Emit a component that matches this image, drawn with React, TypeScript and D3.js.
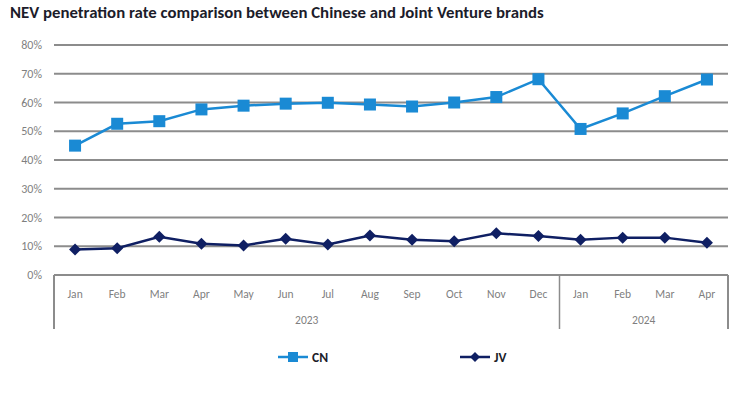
import React from 'react';
import * as d3 from 'd3';

const months = ['Jan', 'Feb', 'Mar', 'Apr', 'May', 'Jun', 'Jul', 'Aug', 'Sep', 'Oct', 'Nov', 'Dec', 'Jan', 'Feb', 'Mar', 'Apr'];
const years = [
  { label: '2023', start: 0, end: 12 },
  { label: '2024', start: 12, end: 16 },
];
const cnValues = [45.0, 52.6, 53.5, 57.6, 58.9, 59.6, 59.9, 59.3, 58.6, 60.0, 61.9, 68.1, 50.8, 56.2, 62.2, 68.0];
const jvValues = [8.9, 9.3, 13.3, 10.9, 10.3, 12.6, 10.6, 13.7, 12.3, 11.7, 14.5, 13.6, 12.3, 13.0, 13.0, 11.2];
const yTicks = [0, 10, 20, 30, 40, 50, 60, 70, 80];

const CN_COLOR = '#1a8ad4';
const JV_COLOR = '#0f1f63';
const GRID = '#8c8c8c';
const LABEL = '#7f7f7f';

const App: React.FC = () => {
  const width = 747;
  const height = 396;
  const left = 54;
  const right = 728;
  const top = 45;
  const bottom = 275;

  const x = d3.scaleBand<number>().domain(d3.range(months.length)).range([left, right]);
  const y = d3.scaleLinear().domain([0, 80]).range([bottom, top]);
  const cx = (i: number) => (x(i) || 0) + x.bandwidth() / 2;
  const edge = (i: number) => (i === months.length ? right : (x(i) || 0));

  const line = d3.line<number>().x((_, i) => cx(i)).y(d => y(d));
  const diamond = (s: number) => `M0,${-s}L${s},0L0,${s}L${-s},0Z`;
  const font = 'Calibri, Carlito, Lato, "Noto Sans", sans-serif';

  return (
    <svg width={width} height={height} style={{ position: 'absolute', left: 0, top: 0, fontFamily: font }}>
      <rect width={width} height={height} fill="#fff" />
      <text x={10} y={18} fontSize={16.8} fontWeight="bold" fill="#1c1c2a">
        NEV penetration rate comparison between Chinese and Joint Venture brands
      </text>

      {yTicks.map(t => (
        <g key={t}>
          {t > 0 && <line x1={left} x2={right} y1={y(t)} y2={y(t)} stroke={GRID} strokeWidth={2} />}
          <text x={42} y={y(t) + 4} fontSize={12} fill={LABEL} textAnchor="end">{t}%</text>
        </g>
      ))}

      {/* category axis box */}
      <line x1={left} x2={right} y1={bottom} y2={bottom} stroke={GRID} strokeWidth={2} />
      {[0, 12, 16].map(i => (
        <line key={i} x1={edge(i)} x2={edge(i)} y1={bottom} y2={329} stroke={GRID} strokeWidth={i === 12 ? 1.5 : 2} />
      ))}
      {months.map((m, i) => (
        <text key={i} x={cx(i)} y={298} fontSize={11.5} fill={LABEL} textAnchor="middle">{m}</text>
      ))}
      {years.map(yr => (
        <text key={yr.label} x={(edge(yr.start) + edge(yr.end)) / 2} y={324}
          fontSize={11.5} fill={LABEL} textAnchor="middle">{yr.label}</text>
      ))}

      {/* CN */}
      <path d={line(cnValues) || ''} fill="none" stroke={CN_COLOR} strokeWidth={2.5} />
      {cnValues.map((v, i) => (
        <rect key={i} x={cx(i) - 6} y={y(v) - 6} width={12} height={12} fill={CN_COLOR} />
      ))}

      {/* JV */}
      <path d={line(jvValues) || ''} fill="none" stroke={JV_COLOR} strokeWidth={2.5} />
      {jvValues.map((v, i) => (
        <path key={i} d={diamond(6)} transform={`translate(${cx(i)},${y(v)})`} fill={JV_COLOR} />
      ))}

      {/* legend */}
      <g transform="translate(278,357)">
        <line x1={0} x2={30} y1={0} y2={0} stroke={CN_COLOR} strokeWidth={2.5} />
        <rect x={10} y={-5} width={10} height={10} fill={CN_COLOR} />
        <text x={34} y={5} fontSize={13.5} fontWeight="bold" fill="#1c1c2a">CN</text>
      </g>
      <g transform="translate(460,357)">
        <line x1={0} x2={30} y1={0} y2={0} stroke={JV_COLOR} strokeWidth={2.5} />
        <path d={diamond(5)} transform="translate(15,0)" fill={JV_COLOR} />
        <text x={34} y={5} fontSize={13.5} fontWeight="bold" fill="#1c1c2a">JV</text>
      </g>
    </svg>
  );
};

export default App;
